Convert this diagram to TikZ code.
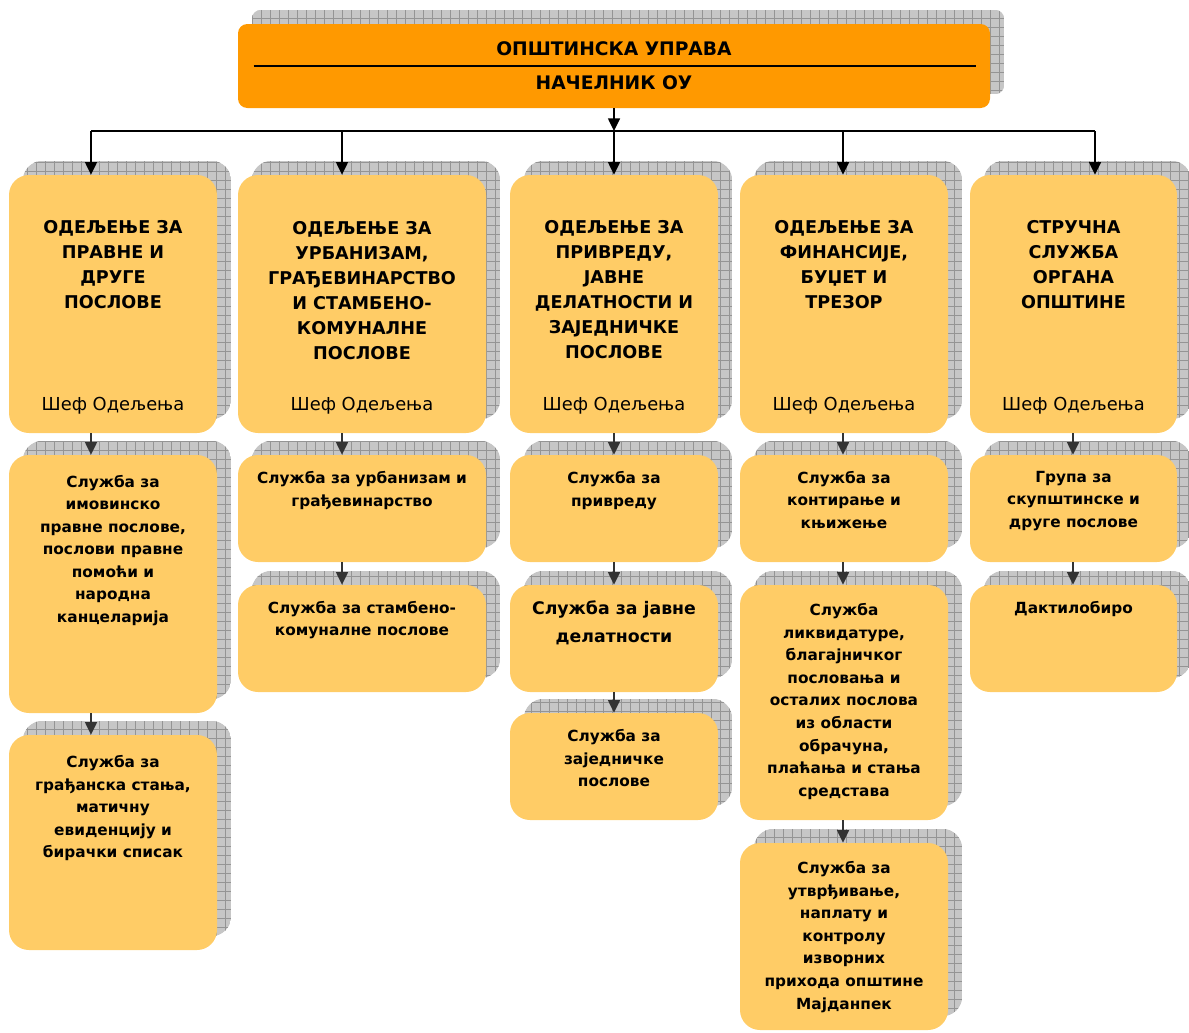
\documentclass[tikz,border=0pt]{standalone}
\usepackage{fontspec}
\setmainfont{DejaVu Sans}
\usetikzlibrary{arrows.meta,fit,backgrounds}
\definecolor{topfill}{HTML}{FF9900}
\definecolor{deptfill}{HTML}{FFCC66}
\definecolor{shadefill}{HTML}{C6C6C6}
\definecolor{shadegrid}{HTML}{949494}
\tikzset{
  topbox/.style={fill=topfill, rounded corners=7pt, inner sep=0pt},
  deptbox/.style={fill=deptfill, rounded corners=15pt, inner sep=0pt},
  toptext/.style={font=\fontsize{14}{19}\selectfont\bfseries, inner sep=0pt},
  head/.style={font=\fontsize{13.2}{18.75}\selectfont\bfseries, align=center, inner sep=0pt, anchor=north},
  chief/.style={font=\fontsize{13.4}{18.75}\selectfont, inner sep=0pt, anchor=base},
  unit/.style={font=\fontsize{11.5}{16.9}\selectfont\bfseries, align=center, inner sep=0pt, anchor=north},
  bigunit/.style={unit, font=\fontsize{13}{21}\selectfont\bfseries},
  arr/.style={line width=1.1pt, -{Triangle[length=9.5pt,width=9pt]}},
  subarr/.style={arr, black!80},
}
\begin{document}
\begin{tikzpicture}[x=0.75pt,y=-0.75pt]
 \useasboundingbox (0,0) rectangle (1189,1032);
 % main office
 \node[topbox, fit={(238,24) (990,108)}] (top) {};
 \draw[line width=1.5pt] ([xshift=12pt]top.west) -- ([xshift=-11pt]top.east);
 \node[toptext, anchor=base] (toptitle) at (614,55) {ОПШТИНСКА УПРАВА};
 \node[toptext, anchor=base] (topchief) at (614,89) {НАЧЕЛНИК ОУ};
 % departments
 \node[deptbox, fit={(9,175) (217,433)}] (d1) {};
 \node[deptbox, fit={(238,175) (486,433)}] (d2) {};
 \node[deptbox, fit={(510,175) (718,433)}] (d3) {};
 \node[deptbox, fit={(740,175) (948,433)}] (d4) {};
 \node[deptbox, fit={(970,175) (1177,433)}] (d5) {};
 \node[head] (d1h) at ([yshift=-34pt]d1.north) {ОДЕЉЕЊЕ ЗА\\ПРАВНЕ И\\ДРУГЕ\\ПОСЛОВЕ};
 \node[head] (d2h) at ([yshift=-35pt]d2.north) {ОДЕЉЕЊЕ ЗА\\УРБАНИЗАМ,\\ГРАЂЕВИНАРСТВО\\И СТАМБЕНО-\\КОМУНАЛНЕ\\ПОСЛОВЕ};
 \node[head] (d3h) at ([yshift=-34pt]d3.north) {ОДЕЉЕЊЕ ЗА\\ПРИВРЕДУ,\\ЈАВНЕ\\ДЕЛАТНОСТИ И\\ЗАЈЕДНИЧКЕ\\ПОСЛОВЕ};
 \node[head] (d4h) at ([yshift=-34pt]d4.north) {ОДЕЉЕЊЕ ЗА\\ФИНАНСИЈЕ,\\БУЏЕТ И\\ТРЕЗОР};
 \node[head] (d5h) at ([yshift=-34pt]d5.north) {СТРУЧНА\\СЛУЖБА\\ОРГАНА\\ОПШТИНЕ};
 \foreach \i in {1,...,5}
  \node[chief] (d\i c) at ([yshift=17pt]d\i.south) {Шеф Одељења};
 % services
 \node[deptbox, fit={(9,455) (217,713)}] (s1a) {};
 \node[deptbox, fit={(9,735) (217,950)}] (s1b) {};
 \node[deptbox, fit={(238,455) (486,562)}] (s2a) {};
 \node[deptbox, fit={(238,585) (486,692)}] (s2b) {};
 \node[deptbox, fit={(510,455) (718,562)}] (s3a) {};
 \node[deptbox, fit={(510,585) (718,692)}] (s3b) {};
 \node[deptbox, fit={(510,713) (718,820)}] (s3c) {};
 \node[deptbox, fit={(740,455) (948,562)}] (s4a) {};
 \node[deptbox, fit={(740,585) (948,820)}] (s4b) {};
 \node[deptbox, fit={(740,843) (948,1030)}] (s4c) {};
 \node[deptbox, fit={(970,455) (1177,562)}] (s5a) {};
 \node[deptbox, fit={(970,585) (1177,692)}] (s5b) {};
 \node[unit] (s1at) at ([yshift=-15pt]s1a.north) {Служба за\\имовинско\\правне послове,\\послови правне\\помоћи и\\народна\\канцеларија};
 \node[unit] (s1bt) at ([yshift=-15.5pt]s1b.north) {Служба за\\грађанска стања,\\матичну\\евиденцију и\\бирачки списак};
 \node[unit] (s2at) at ([yshift=-12.5pt]s2a.north) {Служба за урбанизам и\\грађевинарство};
 \node[unit] (s2bt) at ([yshift=-12pt]s2b.north) {Служба за стамбено-\\комуналне послове};
 \node[unit] (s3at) at ([yshift=-12.5pt]s3a.north) {Служба за\\привреду};
 \node[bigunit] (s3bt) at ([yshift=-11.5pt]s3b.north) {Служба за јавне\\делатности};
 \node[unit] (s3ct) at ([yshift=-12.5pt]s3c.north) {Служба за\\заједничке\\послове};
 \node[unit] (s4at) at ([yshift=-12pt]s4a.north) {Служба за\\контирање и\\књижење};
 \node[unit] (s4bt) at ([yshift=-14pt]s4b.north) {Служба\\ликвидатуре,\\благајничког\\пословања и\\осталих послова\\из области\\обрачуна,\\плаћања и стања\\средстава};
 \node[unit] (s4ct) at ([yshift=-14pt]s4c.north) {Служба за\\утврђивање,\\наплату и\\контролу\\изворних\\прихода општине\\Мајданпек};
 \node[unit] (s5at) at ([yshift=-12pt]s5a.north) {Група за\\скупштинске и\\друге послове};
 \node[unit] (s5bt) at ([yshift=-12.5pt]s5b.north) {Дактилобиро};
 % connectors
 \coordinate (bus) at (614,131);
 \coordinate (c1) at (91,131);
 \coordinate (c2) at (342,131);
 \coordinate (c3) at (614,131);
 \coordinate (c4) at (843,131);
 \coordinate (c5) at (1095,131);
 \coordinate (k1) at (91,440);
 \coordinate (k2) at (342,440);
 \coordinate (k3) at (614,440);
 \coordinate (k4) at (843,440);
 \coordinate (k5) at (1073,440);
 \draw[arr] (top) -- (bus);
 \draw[line width=1pt] (c1) -- (c5);
 \foreach \i in {1,...,5}
  \draw[arr] (c\i) -- (c\i |- d\i.north);
 \foreach \a/\b/\k in {d1/s1a/k1, s1a/s1b/k1, d2/s2a/k2, s2a/s2b/k2, d3/s3a/k3, s3a/s3b/k3, s3b/s3c/k3, d4/s4a/k4, s4a/s4b/k4, s4b/s4c/k4, d5/s5a/k5, s5a/s5b/k5}
  \draw[subarr] (\k |- \a.south) -- (\k |- \b.north);
 % shadows
 \begin{scope}[on background layer]
  \foreach \n/\r in {top/7pt, d1/15pt, d2/15pt, d3/15pt, d4/15pt, d5/15pt, s1a/15pt, s1b/15pt, s2a/15pt, s2b/15pt, s3a/15pt, s3b/15pt, s3c/15pt, s4a/15pt, s4b/15pt, s4c/15pt, s5a/15pt, s5b/15pt} {
   \begin{scope}
    \clip[rounded corners=\r] ([shift={(10.5pt,10.5pt)}]\n.south west) rectangle ([shift={(10.5pt,10.5pt)}]\n.north east);
    \fill[shadefill] ([shift={(10.5pt,10.5pt)}]\n.south west) rectangle ([shift={(10.5pt,10.5pt)}]\n.north east);
    \draw[step=6.75pt,shadegrid,line width=0.4pt] ([shift={(10.5pt,10.5pt)}]\n.south west) grid ([shift={(10.5pt,10.5pt)}]\n.north east);
   \end{scope}
  }
 \end{scope}
\end{tikzpicture}
\end{document}
